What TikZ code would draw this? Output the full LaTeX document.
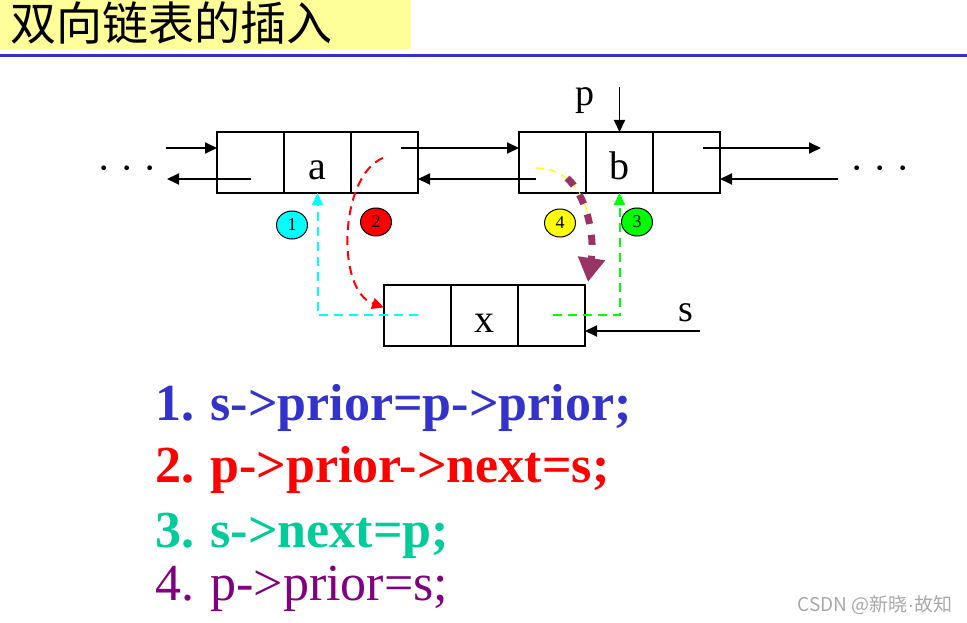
\documentclass[tikz,border=0pt]{standalone}
\usepackage{fontspec}
\setmainfont{Liberation Serif}
\newfontfamily\cjkfont{Noto Sans CJK SC}
\newfontfamily\dotfont{Liberation Sans}
\usetikzlibrary{arrows.meta, positioning, calc, shapes.geometric}
\definecolor{cblue}{HTML}{3333CC}
\definecolor{cred}{HTML}{FF0000}
\definecolor{cteal}{HTML}{00CC99}
\definecolor{cpurple}{HTML}{800080}
\definecolor{cplum}{HTML}{993366}
\definecolor{ccyan}{HTML}{00FFFF}
\definecolor{cgreen}{HTML}{00FF00}
\definecolor{cyellow}{HTML}{FFFF00}
\definecolor{titlebg}{HTML}{FFFF99}
\definecolor{cmark}{HTML}{A8A8A8}
\tikzset{
  every picture/.style={line width=1.8pt},
  cell/.style={draw=black, line width=1.8pt, minimum width=67pt, minimum height=61pt,
    inner sep=0pt, outer sep=0pt, text height=33pt, text depth=0pt,
    font=\fontsize{40}{44}\selectfont},
  ptr/.style={-{Triangle[length=12pt, width=11pt]}, line width=1.8pt},
  stepline/.style={dash pattern=on 9pt off 6pt, line width=2pt,
    -{Triangle[length=12pt, width=11pt]}},
  badge/.style={ellipse, draw=black, line width=1pt, fill=#1, minimum width=31pt,
    minimum height=28pt, inner sep=0pt, font=\fontsize{18}{20}\selectfont},
  label/.style={inner sep=0pt, font=\fontsize{38}{42}\selectfont},
  code/.style={anchor=base west, inner sep=0pt, font=\fontsize{52}{60}\selectfont\bfseries},
}

\begin{document}
\begin{tikzpicture}[x=1pt, y=-1pt]
  \useasboundingbox (0,0) rectangle (967,623);

  % title bar
  \fill[titlebg] (0,0) rectangle (411,49);
  \node[anchor=west, inner sep=0pt, font=\cjkfont\fontsize{46}{50}\selectfont] (title) at (10,23) {双向链表的插入};
  \draw[cblue, line width=3pt] (0,56) -- (967,56);

  % the three nodes
  \node[cell] (aL) at (250.5,162.5) {};
  \node[cell, right=0pt of aL] (aD) {a};
  \node[cell, right=0pt of aD] (aR) {};
  \node[cell] (bL) at (552.5,162.5) {};
  \node[cell, right=0pt of bL] (bD) {b};
  \node[cell, right=0pt of bD] (bR) {};
  \node[cell] (xL) at (417.5,315.5) {};
  \node[cell, right=0pt of xL] (xD) {x};
  \node[cell, right=0pt of xD] (xR) {};

  \node[inner sep=0pt, font=\fontsize{40}{44}\selectfont] (dl) at (127,174) {· · ·};
  \node[inner sep=0pt, font=\fontsize{40}{44}\selectfont] (dr) at (880,174) {· · ·};

  % old links
  \coordinate (lin) at (166,148);
  \coordinate (lout) at (167,179);
  \coordinate (anext) at (401,148);
  \coordinate (bprior) at (536,179);
  \coordinate (bnext) at (703,148);
  \coordinate (rout) at (821,148);
  \coordinate (rin) at (838,179);
  \draw[ptr] (lin) -- (lin -| aL.west);
  \draw[ptr] (aL.center |- lout) -- (lout);
  \draw[ptr] (anext) -- (anext -| bL.west);
  \draw[ptr] (bprior) -- (bprior -| aR.east);
  \draw[ptr] (bnext) -- (rout);
  \draw[ptr] (rin) -- (rin -| bR.east);

  % pointers p and s
  \node[label] (p) at (585,101) {p};
  \coordinate (ptop) at (619.5,87);
  \draw[ptr] (ptop) -- (bD.north);
  \node[label] (s) at (686,313) {s};
  \coordinate (stail) at (700,331);
  \draw[ptr] (stail) -- (stail -| xR.east);

  % the four steps
  \coordinate (xprior) at (418,315);
  \coordinate (xnext) at (553,315);
  \coordinate (anew) at (383,158);
  \coordinate (bnew) at (536,168);
  \coordinate (bnew2) at (567,178);
  \draw[stepline, ccyan] (xprior) -| (aD.south);
  \draw[stepline, cred] (anew) .. controls (340,175) and (335,290) .. ($(xL.west)+(0,-8)$);
  \draw[stepline, cgreen] (xnext) -| (bD.south);
  \draw[cyellow, line width=1.2pt, dash pattern=on 8pt off 5pt] (bnew) .. controls (565,168) and (583,190) .. (588,215);
  \draw[cplum, line width=7pt, dash pattern=on 10pt off 11pt, -{Triangle[length=24pt, width=26pt]}]
    (bnew2) .. controls (586,195) and (595,235) .. ($(xR.north east)+(3,-3)$);

  \node[badge=ccyan] (n1) at (292,225) {1};
  \node[badge=cred] (n2) at (376,222) {2};
  \node[badge=cyellow] (n4) at (560,223) {4};
  \node[badge=cgreen] (n3) at (637,222) {3};

  % code lines
  \node[code, text=cblue] (c1) at (155,420) {1.\hspace{0.3em}s->prior=p->prior;};
  \node[code, text=cred] (c2) at (155,482) {2.\hspace{0.3em}p->prior->next=s;};
  \node[code, text=cteal] (c3) at (155,547) {3.\hspace{0.3em}s->next=p;};
  \node[code, text=cpurple, font=\fontsize{52}{60}\selectfont] (c4) at (155,600) {4.\hspace{0.3em}p->prior=s;};

  \node[inner sep=0pt, text=cmark, font=\cjkfont\fontsize{19}{22}\selectfont] (mark) at (875,605) {CSDN @新晓{\dotfont·}故知};
\end{tikzpicture}
\end{document}
